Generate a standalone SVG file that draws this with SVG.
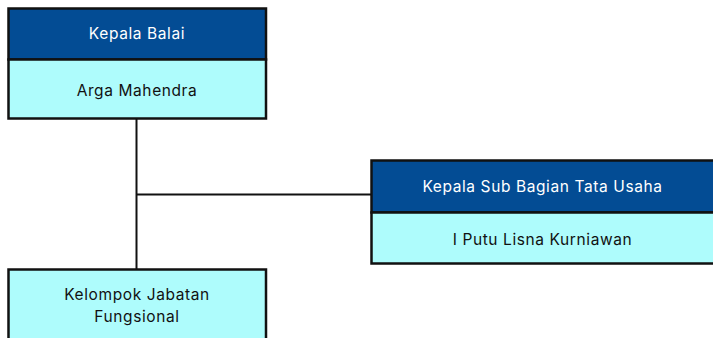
<svg xmlns="http://www.w3.org/2000/svg" width="713" height="338" viewBox="0 0 713 338">
<style>
.hd{fill:#034c94;stroke:#111;stroke-width:2.5}
.bd{fill:#aefcfc;stroke:#111;stroke-width:2.5}
.t{font-family:Inter,"Open Sans","Liberation Sans",sans-serif;font-size:15.5px;letter-spacing:0.6px;text-anchor:middle;dominant-baseline:central}
.w{fill:#ffffff}
.k{fill:#111111}
.c{stroke:#111;stroke-width:2;fill:none}
</style>
<rect width="713" height="338" fill="#ffffff"/>
<g id="connectors">
<path class="c" d="M136.5 119 V269"/>
<path class="c" d="M136.5 194.5 H371"/>
</g>
<g id="kepala-balai">
<rect class="hd" x="8.5" y="8.5" width="257.5" height="51"/>
<rect class="bd" x="8.5" y="59.5" width="257.5" height="59"/>
<text class="t w" x="137" y="33">Kepala Balai</text>
<text class="t k" x="137" y="90">Arga Mahendra</text>
</g>
<g id="kepala-sub-bagian">
<rect class="hd" x="371.5" y="160.5" width="343" height="52"/>
<rect class="bd" x="371.5" y="212.5" width="343" height="51"/>
<text class="t w" x="542.5" y="186">Kepala Sub Bagian Tata Usaha</text>
<text class="t k" x="542.5" y="239">I Putu Lisna Kurniawan</text>
</g>
<g id="kelompok-jabatan">
<rect class="bd" x="8.5" y="269.5" width="257.5" height="80"/>
<text class="t k" x="137" y="294">Kelompok Jabatan</text>
<text class="t k" x="137" y="316">Fungsional</text>
</g>
</svg>
